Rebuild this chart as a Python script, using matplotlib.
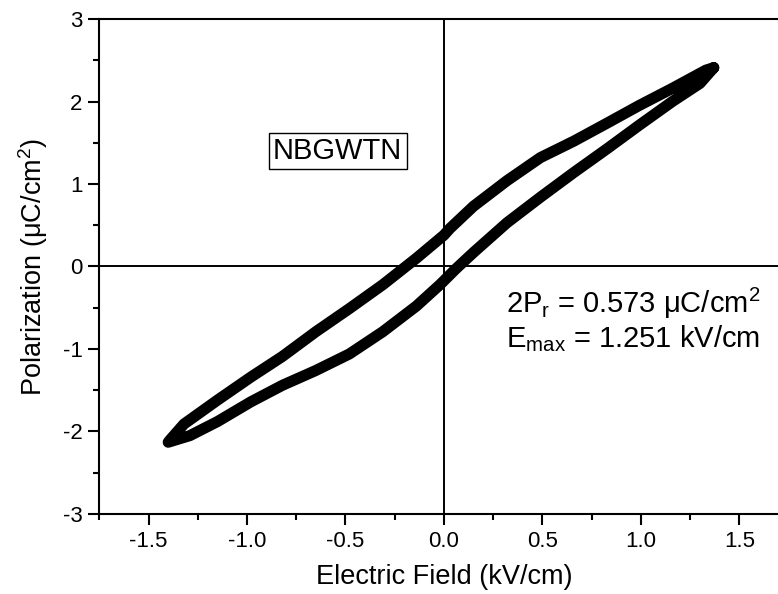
import matplotlib
matplotlib.use("Agg")
import matplotlib.pyplot as plt
import numpy as np
from matplotlib.ticker import MultipleLocator

plt.rcParams.update({
    "font.family": ["Liberation Sans", "DejaVu Sans"],
    "mathtext.fontset": "custom",
    "mathtext.rm": "Liberation Sans",
    "mathtext.it": "Liberation Sans",
})

# descending branch (upper curve), from +Emax down to -Emax
E_down = [1.37, 1.33, 1.16, 0.99, 0.83, 0.66, 0.49, 0.32, 0.15, 0.03, 0.00,
          -0.14, -0.31, -0.48, -0.65, -0.82, -0.98, -1.15, -1.32, -1.39]
P_down = [2.41, 2.38, 2.16, 1.95, 1.74, 1.52, 1.32, 1.04, 0.73, 0.46, 0.38,
          0.10, -0.22, -0.51, -0.79, -1.09, -1.34, -1.62, -1.91, -2.10]

# ascending branch (lower curve), from -Emax back up to +Emax
E_up = [-1.40, -1.29, -1.15, -0.98, -0.82, -0.65, -0.48, -0.31, -0.14, -0.02,
        0.06, 0.15, 0.32, 0.49, 0.66, 0.83, 0.99, 1.16, 1.30, 1.37]
P_up = [-2.13, -2.05, -1.88, -1.64, -1.44, -1.26, -1.06, -0.79, -0.48, -0.22,
        -0.03, 0.17, 0.53, 0.84, 1.14, 1.43, 1.71, 2.00, 2.22, 2.41]

E = np.array(E_down + E_up)
P = np.array(P_down + P_up)

fig = plt.figure(figsize=(7.78, 5.94), dpi=100)
ax = fig.add_axes([0.1276, 0.1347, 0.886, 0.8333])

ax.axhline(0, color="black", lw=1.4, zorder=1)
ax.axvline(0, color="black", lw=1.4, zorder=1)
ax.plot(E, P, color="black", lw=8, solid_capstyle="round",
        solid_joinstyle="round", zorder=3)

ax.set_xlim(-1.75, 1.75)
ax.set_ylim(-3, 3)
ax.xaxis.set_major_locator(MultipleLocator(0.5))
ax.xaxis.set_minor_locator(MultipleLocator(0.25))
ax.yaxis.set_major_locator(MultipleLocator(1))
ax.yaxis.set_minor_locator(MultipleLocator(0.5))
ax.xaxis.set_major_formatter(plt.FuncFormatter(lambda v, _: f"{v:.1f}"))
ax.yaxis.set_major_formatter(plt.FuncFormatter(lambda v, _: f"{v:.0f}"))

ax.spines["right"].set_visible(False)
for s in ("left", "bottom", "top"):
    ax.spines[s].set_linewidth(1.5)
ax.tick_params(which="major", direction="out", length=8, width=1.5,
               labelsize=16, pad=4)
ax.tick_params(which="minor", direction="out", length=4, width=1.5)

ax.set_xlabel("Electric Field (kV/cm)", fontsize=19.5, labelpad=9)
ax.set_ylabel(r"Polarization ($\mu$C/cm$^2$)", fontsize=19.5, labelpad=9)

ax.text(-0.54, 1.40, "NBGWTN", fontsize=21, ha="center", va="center",
        bbox=dict(boxstyle="square,pad=0.15", fc="white", ec="black", lw=1))
ax.text(0.315, -0.56, r"2P$_{\rm r}$ = 0.573 $\mu$C/cm$^2$", fontsize=21,
        ha="left", va="baseline")
ax.text(0.315, -0.98, r"E$_{\rm max}$ = 1.251 kV/cm", fontsize=21,
        ha="left", va="baseline")

fig.savefig("out.png", dpi=100)
